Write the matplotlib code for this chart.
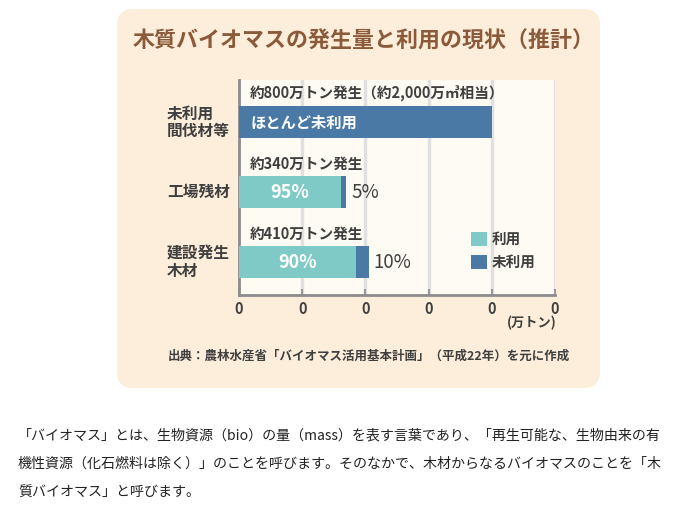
import matplotlib
matplotlib.use("Agg")
import matplotlib.pyplot as plt
from matplotlib.patches import FancyBboxPatch, Patch
from matplotlib.transforms import IdentityTransform, blended_transform_factory

plt.rcParams['font.family'] = ['Noto Sans CJK JP', 'DejaVu Sans']

# ---- data ----
categories = ["未利用\n間伐材等", "工場残材", "建設発生\n木材"]
totals = [800, 340, 410]              # 万トン
used_pct = [0, 95, 90]                # %
unused_pct = [100, 5, 10]
headline = ["約800万トン発生（約2,000万㎥相当）", "約340万トン発生", "約410万トン発生"]
xticks = [0, 200, 400, 600, 800, 1000]
xticklabels = ["0", "0", "0", "0", "0", "0"]
legend_labels = ["利用", "未利用"]
title = "木質バイオマスの発生量と利用の現状（推計）"
source = "出典：農林水産省「バイオマス活用基本計画」（平成22年）を元に作成"
body = ["「バイオマス」とは、生物資源（bio）の量（mass）を表す言葉であり、「再生可能な、生物由来の有",
        "機性資源（化石燃料は除く）」のことを呼びます。そのなかで、木材からなるバイオマスのことを「木",
        "質バイオマス」と呼びます。"]

C_USED = "#7fcac6"
C_UNUSED = "#4a79a6"
C_BOX = "#fdeedb"
C_PLOT = "#fefaf4"
C_TEXT = "#3f3f3f"
C_TITLE = "#8a5a3a"

W, H = 687, 513
fig = plt.figure(figsize=(W / 100, H / 100), dpi=100)
fig.patch.set_facecolor("white")

# rounded beige panel (pixel coordinates)
box = FancyBboxPatch((117 + 16, (H - 388) + 16), (600 - 117) - 32, (388 - 9) - 32,
                     boxstyle="round,pad=16", transform=IdentityTransform(),
                     facecolor=C_BOX, edgecolor="none", zorder=-5)
fig.patches.append(box)

fig.text(364 / W, 1 - 41 / H, title, ha="center", va="center", fontsize=15.8,
         fontweight="bold", color=C_TITLE)

ax = fig.add_axes([239 / W, 1 - 295 / H, 316 / W, 215 / H])
ax.set_facecolor(C_PLOT)
ax.set_xlim(0, 1000)
ax.set_ylim(2.471, -0.607)

ypos = list(range(len(categories)))
used_vals = [t * p / 100 for t, p in zip(totals, used_pct)]
unused_vals = [t * p / 100 for t, p in zip(totals, unused_pct)]
bh = 0.457
ax.barh(ypos, used_vals, height=bh, color=C_USED, zorder=3)
ax.barh(ypos, unused_vals, left=used_vals, height=bh, color=C_UNUSED, zorder=3)

# grid
for xv in xticks[1:]:
    ax.axvline(xv, color="#e0e0e0", lw=2.4, zorder=1)

ax.set_xticks(xticks)
ax.set_xticklabels(xticklabels, fontsize=10.5, color=C_TEXT, fontweight="bold")
ax.tick_params(axis="x", direction="in", length=4, width=1.5, color="#999999", pad=4)
ax.set_yticks([])
for s in ["top", "right"]:
    ax.spines[s].set_visible(False)
for s in ["left", "bottom"]:
    ax.spines[s].set_color("#8c8c8c")
    ax.spines[s].set_linewidth(2)

# annotations
for i, (t, u, n) in enumerate(zip(totals, used_vals, unused_vals)):
    ax.text(35, i - 0.405, headline[i], ha="left", va="center", fontsize=10.5,
            fontweight="bold", color=C_TEXT, zorder=4)
    if used_pct[i] == 0:
        ax.text(35, i, "ほとんど未利用", ha="left", va="center", fontsize=11,
                fontweight="bold", color="white", zorder=4)
    else:
        ax.text(u / 2, i, f"{used_pct[i]}%", ha="center", va="center", fontsize=13,
                color="white", fontweight="bold", zorder=4)
        ax.text(t + 15, i, f"{unused_pct[i]}%", ha="left", va="center", fontsize=13.5,
                color=C_TEXT, zorder=4)

# category labels
tr = blended_transform_factory(ax.transAxes, ax.transData)
for i, c in enumerate(categories):
    ax.text(-0.228, i, c, transform=tr, ha="left", va="center", fontsize=11.3,
            fontweight="bold", color=C_TEXT, linespacing=1.15)

ax.text(1.005, -0.13, "(万トン)", transform=ax.transAxes, ha="right", va="center",
        fontsize=9.5, fontweight="bold", color=C_TEXT)

handles = [Patch(facecolor=C_USED), Patch(facecolor=C_UNUSED)]
leg = ax.legend(handles, legend_labels, loc="upper left", bbox_to_anchor=(0.715, 0.325),
                frameon=False, fontsize=10.5, handlelength=1.1, handleheight=1.1,
                handletextpad=0.3, labelspacing=0.45, borderaxespad=0)
for txt in leg.get_texts():
    txt.set_color(C_TEXT)
    txt.set_fontweight("bold")

fig.text(168 / W, 1 - 356 / H, source, ha="left", va="center", fontsize=9,
         fontweight="bold", color=C_TEXT)

for k, line in enumerate(body):
    fig.text(18 / W, 1 - (435 + 29 * k) / H, line, ha="left", va="center",
             fontsize=10.1, color="#222222")

fig.savefig("out.png", dpi=100)
